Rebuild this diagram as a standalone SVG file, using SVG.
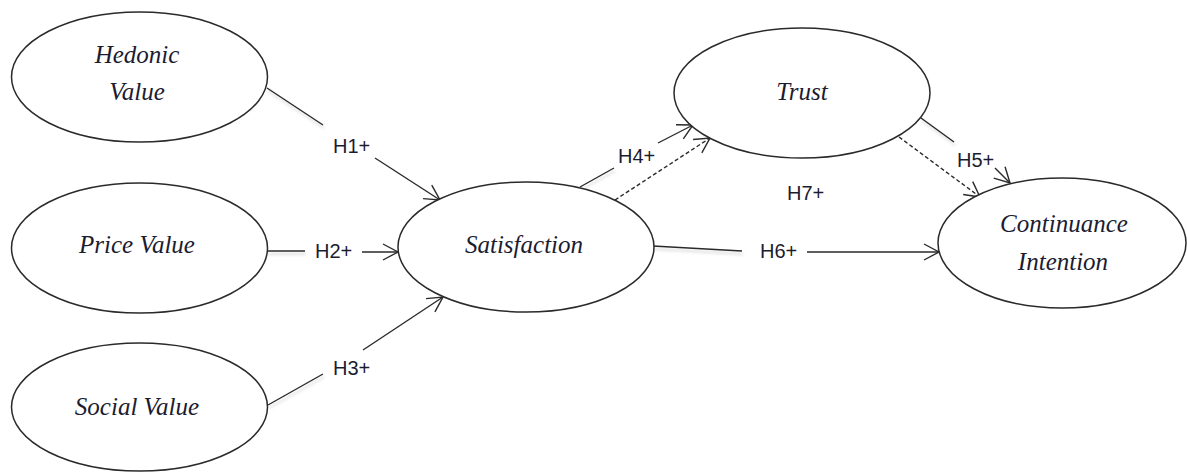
<svg xmlns="http://www.w3.org/2000/svg" width="1187" height="472" viewBox="0 0 1187 472">
<defs>
<marker id="arr" markerUnits="userSpaceOnUse" markerWidth="20" markerHeight="20" viewBox="-16 -10 20 20" refX="0" refY="0" orient="auto">
<path d="M-15,-8 L0,0 L-15,8" fill="none" stroke="#2a2a2a" stroke-width="1.4"/>
</marker>
<filter id="sh" filterUnits="userSpaceOnUse" x="0" y="0" width="1187" height="472">
<feDropShadow dx="1" dy="3" stdDeviation="1.5" flood-color="#000" flood-opacity="0.18"/>
</filter>
</defs>
<style>
.node ellipse{fill:#fff;stroke:#2a2a2a;stroke-width:1.5}
.node text{font-family:"Liberation Serif","Times New Roman",serif;font-style:italic;font-size:25px;fill:#1c1c30;text-anchor:middle}
.lbl{font-family:"Liberation Sans",Arial,sans-serif;font-size:20px;fill:#1c1c30}
.c line{stroke:#2a2a2a;stroke-width:1.4;fill:none}
.c .d{stroke-dasharray:4 2.5}
</style>
<g id="connectors" class="c">
<line x1="267" y1="88" x2="323" y2="125" filter="url(#sh)"/>
<line x1="375" y1="158" x2="440" y2="200" marker-end="url(#arr)"/>
<line x1="267" y1="251" x2="305" y2="251" filter="url(#sh)"/>
<line x1="362" y1="252" x2="398" y2="252" marker-end="url(#arr)"/>
<line x1="268" y1="405" x2="323" y2="374" filter="url(#sh)"/>
<line x1="363" y1="350" x2="443" y2="297" marker-end="url(#arr)"/>
<line x1="580" y1="187" x2="614" y2="168" filter="url(#sh)"/>
<line x1="658" y1="143" x2="693" y2="125" marker-end="url(#arr)"/>
<line class="d" x1="615" y1="200" x2="710" y2="138" marker-end="url(#arr)"/>
<line x1="921" y1="118" x2="954" y2="142" filter="url(#sh)"/>
<line x1="995" y1="168" x2="1010" y2="183" marker-end="url(#arr)"/>
<line class="d" x1="899" y1="137" x2="980" y2="197" marker-end="url(#arr)"/>
<line x1="653" y1="246" x2="742" y2="251" filter="url(#sh)"/>
<line x1="807" y1="252" x2="939" y2="252" marker-end="url(#arr)"/>
<text class="lbl" x="333" y="153">H1+</text>
<text class="lbl" x="315" y="258">H2+</text>
<text class="lbl" x="333" y="375">H3+</text>
<text class="lbl" x="618" y="163">H4+</text>
<text class="lbl" x="787" y="200">H7+</text>
<text class="lbl" x="957" y="167">H5+</text>
<text class="lbl" x="760" y="258">H6+</text>
</g>
<g id="hedonic" class="node">
<ellipse cx="139.5" cy="77" rx="128" ry="65"/>
<text x="137" y="63">Hedonic</text>
<text x="137" y="100">Value</text>
</g>
<g id="price" class="node">
<ellipse cx="139.5" cy="248" rx="128" ry="65"/>
<text x="137" y="253">Price Value</text>
</g>
<g id="social" class="node">
<ellipse cx="139.5" cy="407" rx="128" ry="64"/>
<text x="137" y="415">Social Value</text>
</g>
<g id="satisfaction" class="node">
<ellipse cx="526" cy="247" rx="128" ry="65"/>
<text x="524" y="253">Satisfaction</text>
</g>
<g id="trust" class="node">
<ellipse cx="802" cy="93" rx="128" ry="65"/>
<text x="802" y="100">Trust</text>
</g>
<g id="continuance" class="node">
<ellipse cx="1062" cy="243" rx="124" ry="65"/>
<text x="1064" y="232">Continuance</text>
<text x="1063" y="270">Intention</text>
</g>
</svg>
